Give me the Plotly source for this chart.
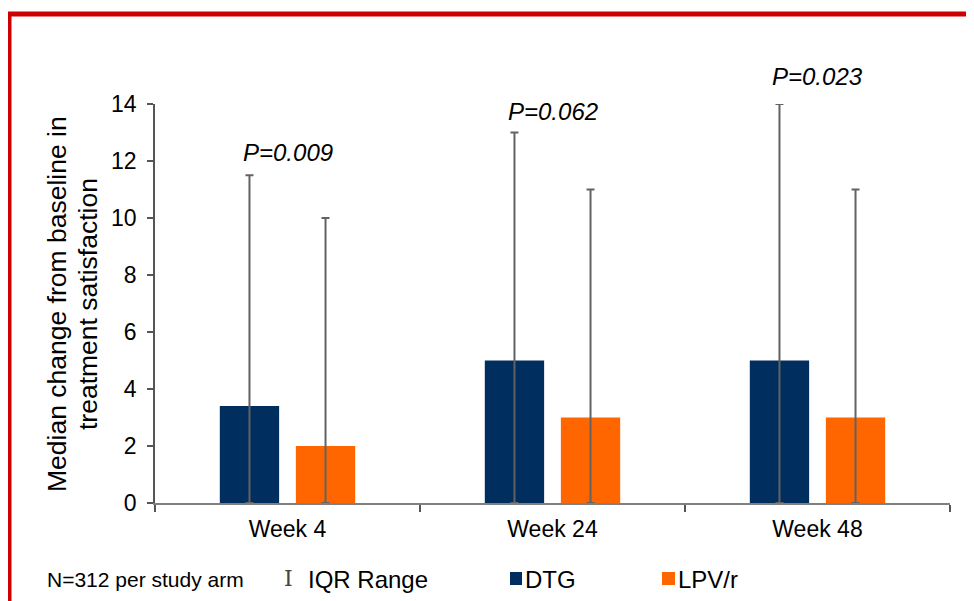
import plotly.graph_objects as go

weeks = ["Week 4", "Week 24", "Week 48"]
dtg_median = [3.4, 5, 5]
lpv_median = [2, 3, 3]
dtg_upper = [11.5, 13, 14]
lpv_upper = [10, 11, 11]
p_values = ["P=0.009", "P=0.062", "P=0.023"]
y_ticks = [0, 2, 4, 6, 8, 10, 12, 14]
y_title_lines = ["Median change from baseline in", "treatment satisfaction"]
y_max = 14

FONT = "Liberation Sans, Arial, sans-serif"
DTG_COLOR = "#002E5E"
LPV_COLOR = "#FF6600"
ERR_COLOR = "#636363"

# page has an 8px body margin; compensate so the plot lands where the reference has it
OFF = 8
W, H = 974 - OFF, 601 - OFF
ml, mr, mt, mb = 155 - OFF, 24, 104 - OFF, 98
pw, ph = W - ml - mr, H - mt - mb


def px(x):  # page pixel -> paper x
    return (x - OFF - ml) / pw


def py(y):  # page pixel -> paper y
    return (H - mb - (y - OFF)) / ph


fig = go.Figure()
for name, med, up, col in [("DTG", dtg_median, dtg_upper, DTG_COLOR),
                           ("LPV/r", lpv_median, lpv_upper, LPV_COLOR)]:
    fig.add_trace(go.Bar(
        x=weeks, y=med, name=name, marker_color=col, marker_line_width=0,
        error_y=dict(type="data", symmetric=False,
                     array=[u - m for u, m in zip(up, med)],
                     arrayminus=med,
                     color=ERR_COLOR, thickness=2, width=4),
        showlegend=False,
    ))

# P-value annotations (above the taller whisker)
p_offsets = [0.8, 0.75, 0.95]
for w, p, a, b, o in zip(weeks, p_values, dtg_upper, lpv_upper, p_offsets):
    top = max(a, b) + o
    fig.add_annotation(x=w, xref="x", y=top / y_max, yref="y domain",
                       text="<i>" + p + "</i>", showarrow=False,
                       font=dict(family=FONT, size=24, color="#000000"),
                       xanchor="center", yanchor="middle")

# Y-axis title (two rotated lines)
for line, xc in zip(y_title_lines, [57, 88]):
    fig.add_annotation(xref="paper", yref="paper", x=px(xc), y=py(304), text=line,
                       textangle=-90, showarrow=False, xanchor="center", yanchor="middle",
                       font=dict(family=FONT, size=26.5, color="#000000"))

# Red frame (top and left edges)
fig.add_shape(type="line", xref="paper", yref="paper", x0=px(8), x1=px(1000), y0=py(14), y1=py(14),
              line=dict(color="#CC0000", width=5))
fig.add_shape(type="line", xref="paper", yref="paper", x0=px(9.5), x1=px(9.5), y0=py(12), y1=py(620),
              line=dict(color="#CC0000", width=4))

# Bottom legend row
fig.add_annotation(xref="paper", yref="paper", x=px(45), y=py(579), text="N=312 per study arm",
                   showarrow=False, xanchor="left", yanchor="middle",
                   font=dict(family=FONT, size=21, color="#000000"))
fig.add_annotation(xref="paper", yref="paper", x=px(288), y=py(578), text="I",
                   showarrow=False, xanchor="center", yanchor="middle",
                   font=dict(family="DejaVu Serif, serif", size=22, color="#444444"))
fig.add_annotation(xref="paper", yref="paper", x=px(306), y=py(579), text="IQR Range",
                   showarrow=False, xanchor="left", yanchor="middle",
                   font=dict(family=FONT, size=24, color="#000000"))
fig.add_shape(type="rect", xref="paper", yref="paper", x0=px(510), x1=px(522), y0=py(572), y1=py(585),
              fillcolor=DTG_COLOR, line_width=0)
fig.add_annotation(xref="paper", yref="paper", x=px(523), y=py(579), text="DTG",
                   showarrow=False, xanchor="left", yanchor="middle",
                   font=dict(family=FONT, size=24, color="#000000"))
fig.add_shape(type="rect", xref="paper", yref="paper", x0=px(662), x1=px(675), y0=py(572), y1=py(585),
              fillcolor=LPV_COLOR, line_width=0)
fig.add_annotation(xref="paper", yref="paper", x=px(676), y=py(579), text="LPV/r",
                   showarrow=False, xanchor="left", yanchor="middle",
                   font=dict(family=FONT, size=24, color="#000000"))

fig.update_layout(
    width=W, height=H,
    margin=dict(l=ml, r=mr, t=mt, b=mb),
    paper_bgcolor="white", plot_bgcolor="white",
    barmode="group", bargap=0.426, bargroupgap=0.22,
    font=dict(family=FONT, color="#000000"),
    showlegend=False,
)
fig.update_xaxes(
    type="category", tickson="boundaries", ticks="outside", ticklen=7, tickwidth=1.5,
    tickcolor="#555555", showline=True, linecolor="#808080", linewidth=2,
    tickfont=dict(family=FONT, size=23, color="#000000"), showgrid=False,
    ticklabelstandoff=4,
)
fig.update_yaxes(
    range=[0, y_max], tickvals=y_ticks, ticks="outside", ticklen=6, tickwidth=1.5, tickcolor="#555555",
    showline=True, linecolor="#555555", linewidth=1.5, showgrid=False, zeroline=False,
    tickfont=dict(family=FONT, size=23, color="#000000"), ticklabelstandoff=6,
)

fig.write_html("out.html")
